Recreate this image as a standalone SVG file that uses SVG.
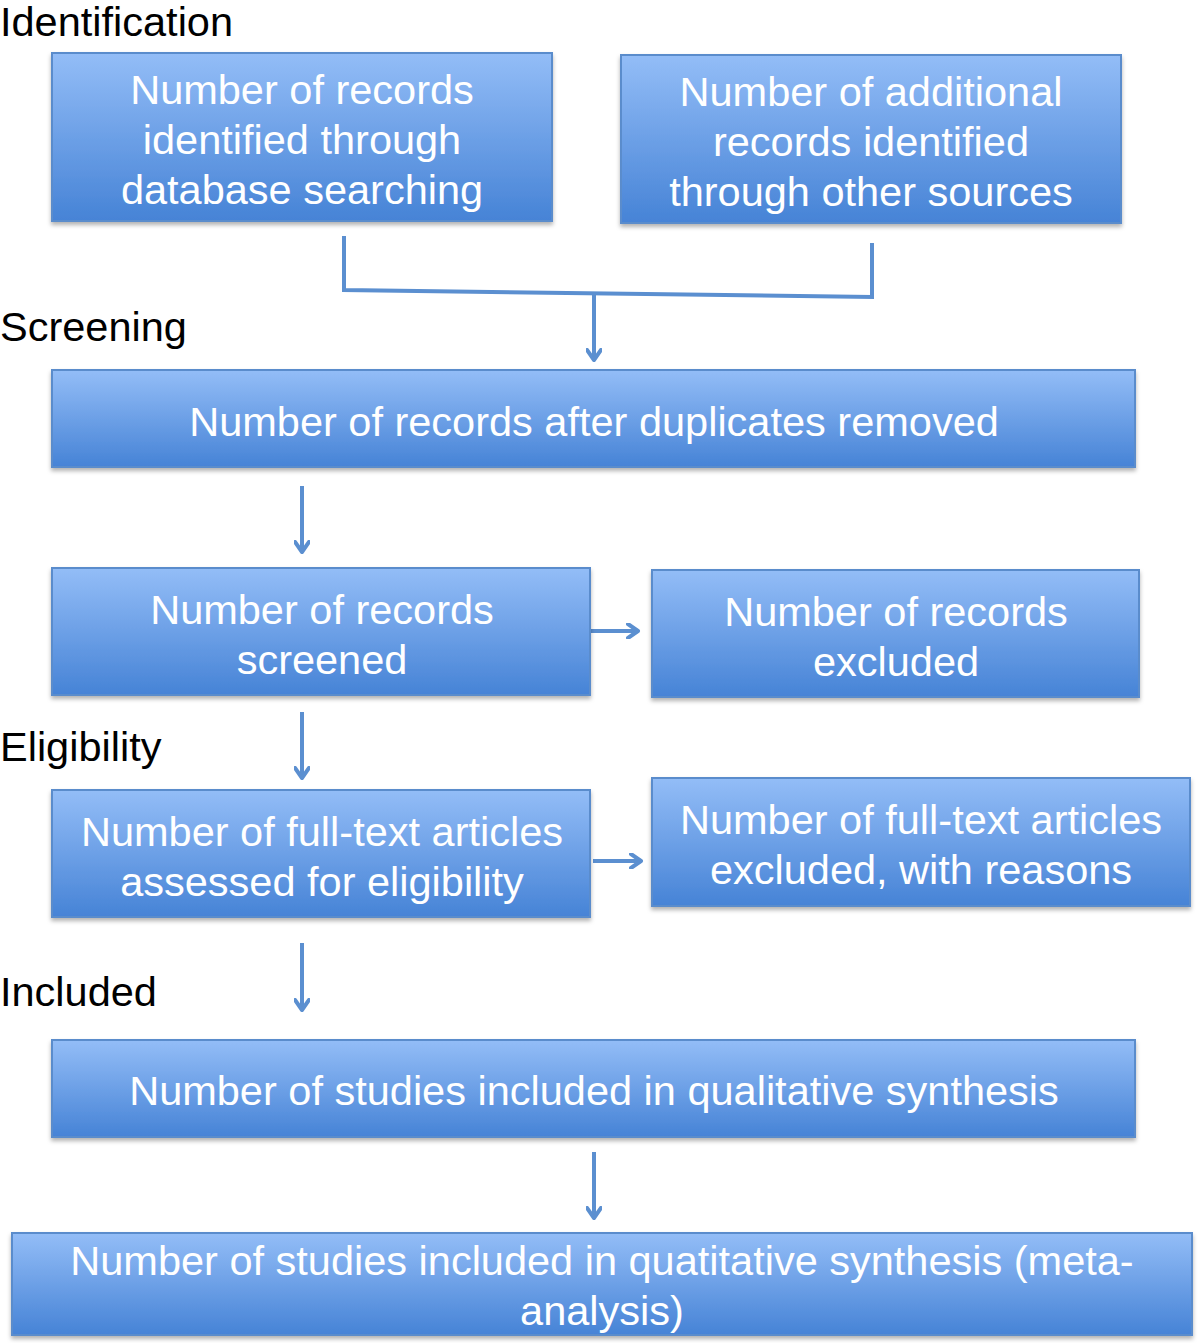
<svg xmlns="http://www.w3.org/2000/svg" width="1200" height="1343" viewBox="0 0 1200 1343">
<defs>
<linearGradient id="g" x1="0" y1="0" x2="0" y2="1">
<stop offset="0" stop-color="#93bdf7"/>
<stop offset="1" stop-color="#4683d6"/>
</linearGradient>
<filter id="sh" x="-5%" y="-10%" width="110%" height="130%">
<feDropShadow dx="0" dy="3" stdDeviation="2" flood-color="#000" flood-opacity="0.3"/>
</filter>
<marker id="ah" markerWidth="16" markerHeight="16" refX="12" refY="8" orient="auto" markerUnits="userSpaceOnUse">
<polyline points="2,1 12,8 2,15" fill="none" stroke="#5b8fd0" stroke-width="4" stroke-linecap="round" stroke-linejoin="round"/>
</marker>
</defs>
<style>
.box{fill:url(#g);stroke:#5a8ccc;stroke-width:2;filter:url(#sh)}
.t{font-family:"Liberation Sans",Arial,sans-serif;font-size:41.5px;fill:#fff;text-anchor:middle}
.lbl{font-family:"Liberation Sans",Arial,sans-serif;font-size:41.5px;fill:#000}
.c{fill:none;stroke:#5b8fd0;stroke-width:4}
</style>
<rect width="1200" height="1343" fill="#fff"/>
<g id="labels">
<text class="lbl" x="0" y="36">Identification</text>
<text class="lbl" x="0" y="341">Screening</text>
<text class="lbl" x="0" y="761">Eligibility</text>
<text class="lbl" x="0" y="1006">Included</text>
</g>
<g id="connectors">
<polyline class="c" points="344,236 344,290 872,297 872,243"/>
<line class="c" x1="594" y1="295" x2="594" y2="360" marker-end="url(#ah)"/>
<line class="c" x1="302" y1="486" x2="302" y2="552" marker-end="url(#ah)"/>
<line class="c" x1="591" y1="631" x2="638" y2="631" marker-end="url(#ah)"/>
<line class="c" x1="302" y1="712" x2="302" y2="778" marker-end="url(#ah)"/>
<line class="c" x1="593" y1="861" x2="641" y2="861" marker-end="url(#ah)"/>
<line class="c" x1="302" y1="943" x2="302" y2="1010" marker-end="url(#ah)"/>
<line class="c" x1="594" y1="1152" x2="594" y2="1218" marker-end="url(#ah)"/>
</g>
<g id="n1"><rect class="box" x="52" y="53" width="500" height="168"/>
<text class="t" x="302" y="104">Number of records</text><text class="t" x="302" y="154">identified through</text><text class="t" x="302" y="204">database searching</text></g>
<g id="n2"><rect class="box" x="621" y="55" width="500" height="168"/>
<text class="t" x="871" y="106">Number of additional</text><text class="t" x="871" y="156">records identified</text><text class="t" x="871" y="206">through other sources</text></g>
<g id="n3"><rect class="box" x="52" y="370" width="1083" height="97"/>
<text class="t" x="594" y="436">Number of records after duplicates removed</text></g>
<g id="n4"><rect class="box" x="52" y="568" width="538" height="127"/>
<text class="t" x="322" y="624">Number of records</text><text class="t" x="322" y="674">screened</text></g>
<g id="n5"><rect class="box" x="652" y="570" width="487" height="127"/>
<text class="t" x="896" y="626">Number of records</text><text class="t" x="896" y="676">excluded</text></g>
<g id="n6"><rect class="box" x="52" y="790" width="538" height="127"/>
<text class="t" x="322" y="846">Number of full-text articles</text><text class="t" x="322" y="896">assessed for eligibility</text></g>
<g id="n7"><rect class="box" x="652" y="778" width="538" height="128"/>
<text class="t" x="921" y="834">Number of full-text articles</text><text class="t" x="921" y="884">excluded, with reasons</text></g>
<g id="n8"><rect class="box" x="52" y="1040" width="1083" height="97"/>
<text class="t" x="594" y="1105">Number of studies included in qualitative synthesis</text></g>
<g id="n9"><rect class="box" x="12" y="1233" width="1180" height="102"/>
<text class="t" x="602" y="1275">Number of studies included in quatitative synthesis (meta-</text><text class="t" x="602" y="1325">analysis)</text></g>
</svg>
